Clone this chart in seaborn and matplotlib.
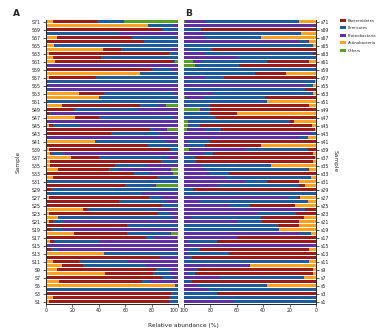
import numpy as np
import pandas as pd
import matplotlib
matplotlib.use("Agg")
import matplotlib.pyplot as plt
import seaborn as sns
from matplotlib.ticker import MultipleLocator
from matplotlib.patches import Patch

# ---------------- data (samples 1..71) ----------------
phyla = ["Actinobacteria", "Bacteroidetes", "Firmicutes", "Proteobacteria", "Others"]
legend_order = ["Bacteroidetes", "Firmicutes", "Proteobacteria", "Actinobacteria", "Others"]
palette = {"Bacteroidetes": "#9a1b17", "Firmicutes": "#1c5b9c", "Proteobacteria": "#6130a0",
           "Actinobacteria": "#ffa31f", "Others": "#5a9e22"}

labels_a = [f"S{i}" for i in range(1, 72)]
labels_b = [f"s{i}" for i in range(1, 72)]

act_a = [2,5,0,0,98,10,1,45,8,12, 5,0,44,0,0,3,1,21,0,0, 2,9,2,28,0,0,2,0,0,0,
         0,5,1,9,3,3,19,3,2,0, 37,0,0,0,2,0,22,1,0,12, 0,40,25,0,0,0,2,71,1,0,
         7,5,2,43,6,1,8,0,0,77, 5]
bac_a = [91,88,95,0,0,63,87,36,75,16, 20,86,0,4,0,3,75,40,4,61, 3,0,83,3,88,55,76,0,4,60,
         0,79,66,39,49,84,21,1,92,77, 0,0,49,79,3,0,18,1,21,59, 0,0,19,0,0,0,36,0,79,0,
         90,37,91,14,0,73,57,0,88,0, 34]
firm_a = [7,7,5,100,2,6,8,13,11,48, 36,0,55,4,0,34,6,33,10,39, 9,88,8,54,12,35,10,72,96,21,
          100,16,11,7,23,13,52,10,6,23, 54,1,37,2,21,0,56,2,49,14, 100,60,52,2,0,100,62,28,15,0,
          1,58,7,37,94,26,33,56,12,20, 20]
prot_a = [0,0,0,0,0,21,4,6,6,24, 39,14,1,92,100,60,17,1,86,0, 86,3,7,15,0,10,12,28,0,2,
          0,0,18,40,25,0,8,86,0,0, 9,99,14,11,74,100,4,96,30,6, 0,0,4,98,100,0,0,1,5,100,
          0,0,0,6,0,0,2,44,0,3, 0]
oth_a = [0,0,0,0,0,0,0,0,0,0, 0,0,0,0,0,0,1,5,0,0, 0,0,0,0,0,0,0,0,0,17,
         0,0,4,5,0,0,0,0,0,0, 0,0,0,8,0,0,0,0,0,9, 0,0,0,0,0,0,0,0,0,0,
         2,0,0,0,0,0,0,0,0,0, 41]

act_b = [0,0,0,0,37,0,9,2,2,50, 5,0,0,5,0,0,0,4,28,13, 13,9,0,0,16,6,12,0,0,8,
         13,4,0,5,34,2,1,2,0,42, 0,6,0,1,3,17,0,60,0,5, 37,0,2,0,2,1,0,23,0,0,
         5,0,0,0,2,5,42,11,0,0, 13]
bac_b = [0,0,75,0,0,94,0,90,88,1, 0,94,66,83,0,75,60,0,0,16, 28,33,15,8,34,0,2,0,93,5,
         24,0,66,1,0,89,91,76,6,42, 80,0,0,71,85,3,76,20,80,75, 0,39,0,8,0,0,70,23,1,58,
         32,0,2,79,0,1,0,0,87,0, 0]
firm_b = [62,100,25,82,53,6,64,6,1,0, 95,4,32,10,0,23,0,9,72,71, 18,52,29,3,16,82,7,100,7,62,
          17,65,14,77,53,9,8,7,48,14, 18,7,3,12,8,76,24,20,5,18, 63,46,76,92,6,99,13,54,99,34,
          49,60,81,19,98,7,41,74,13,0, 70]
prot_b = [38,0,0,18,10,0,27,2,9,49, 0,2,2,2,100,2,40,87,0,0, 41,6,56,89,34,12,79,0,0,25,
          46,31,20,17,13,0,0,15,42,2, 2,87,97,14,1,1,0,0,3,2, 0,14,22,0,92,0,17,0,0,0,
          7,40,17,2,0,87,17,15,0,100, 16]
oth_b = [0,0,0,0,0,0,0,0,0,0, 0,0,0,0,0,0,0,0,0,0, 0,0,0,0,0,0,0,0,0,0,
         0,0,0,0,0,0,0,0,4,0, 0,0,0,2,3,3,0,0,12,0, 0,1,0,0,0,0,0,0,0,8,
         7,0,0,0,0,0,0,0,0,0, 1]

# ---------------- figure ----------------
sns.set_style("ticks")
plt.rcParams["font.family"] = ["DejaVu Sans"]
W, H = 384, 332
fig = plt.figure(figsize=(W / 100, H / 100), dpi=100)

# 71 rows at exactly 4 px pitch so bars and gaps land on whole pixels
top_px = 19.5
bot_px = top_px + 71 * 4
ax_a = fig.add_axes([46 / W, 1 - bot_px / H, 132 / W, (bot_px - top_px) / H])
ax_b = fig.add_axes([184 / W, 1 - bot_px / H, 132 / W, (bot_px - top_px) / H])

def draw_panel(ax, labels, series):
    df = pd.DataFrame({"sample": labels})
    for name, vals in zip(phyla, series):
        df[name] = vals
    order = labels[::-1]
    cum = df[phyla].cumsum(axis=1)
    for name in phyla[::-1]:
        sns.barplot(x=cum[name].values, y=df["sample"].values, order=order, orient="h",
                    color=palette[name], saturation=1, width=0.75, errorbar=None,
                    linewidth=0, ax=ax)
    shown = [l for l in order if int(l[1:]) % 2 == 1]
    ax.set_yticks([order.index(l) for l in shown])
    ax.set_yticklabels(shown)
    ax.set_ylabel("Sample", fontsize=4.2, color="#333333")
    ax.set_xlabel("")
    ax.xaxis.set_major_locator(MultipleLocator(20))
    ax.xaxis.set_minor_locator(MultipleLocator(2))
    ax.tick_params(axis="both", which="major", labelsize=3.4, length=2, width=0.5, pad=1.5,
                   colors="#222222")
    ax.tick_params(axis="x", which="minor", length=1, width=0.3)
    for s in ax.spines.values():
        s.set_linewidth(0.7)

draw_panel(ax_a, labels_a, [act_a, bac_a, firm_a, prot_a, oth_a])
ax_a.set_xlim(0, 100)
sns.despine(ax=ax_a)
ax_a.yaxis.set_label_coords(-0.19, 0.5)
fig.canvas.draw()
for t in ax_a.get_xticklabels():
    if t.get_text() == "100":
        t.set_horizontalalignment("right")

draw_panel(ax_b, labels_b, [act_b, bac_b, firm_b, prot_b, oth_b])
ax_b.set_xlim(100, 0)
ax_b.yaxis.tick_right()
ax_b.yaxis.set_label_position("right")
ax_b.spines["left"].set_visible(False)
ax_b.spines["top"].set_visible(False)
ax_b.set_ylabel("Sample", fontsize=4.2, rotation=270, labelpad=6, color="#333333")

fig.text(13 / W, 1 - 13 / H, "A", fontsize=6.5, fontweight="bold", va="center")
fig.text(185 / W, 1 - 13 / H, "B", fontsize=6.5, fontweight="bold", va="center")
fig.text(183 / W, 1 - 326 / H, "Relative abundance (%)", fontsize=4.2, ha="center",
         va="center", color="#222222")

handles = [Patch(facecolor=palette[n], edgecolor="none", label=n) for n in legend_order]
fig.legend(handles=handles, loc="upper left", bbox_to_anchor=(338 / W, 1 - 17 / H),
           frameon=False, fontsize=2.8, handlelength=1.6, handleheight=0.7,
           labelspacing=0.9, handletextpad=0.6, borderaxespad=0)

fig.savefig("out.png", dpi=100)
